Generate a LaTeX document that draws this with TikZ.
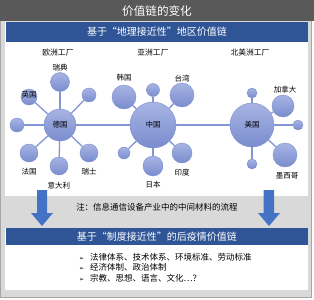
\documentclass[tikz,border=0pt]{standalone}
\usepackage{fontspec}
\setmainfont{Noto Sans CJK SC}
\newfontfamily\dejavu{DejaVu Sans}
\definecolor{titlegray}{HTML}{595959}
\definecolor{bggray}{HTML}{D9D9D9}
\definecolor{framegray}{HTML}{A6A6A6}
\definecolor{hdrblue}{HTML}{2F5597}
\definecolor{arrblue}{HTML}{4472C4}
\definecolor{bubtop}{HTML}{A7B4E3}
\definecolor{bubbot}{HTML}{7A8CCE}
\definecolor{linkc}{HTML}{8396D3}
\begin{document}
\begin{tikzpicture}[x=1pt,y=-1pt,
  bub/.style={circle,inner sep=0pt,minimum size=#1,top color=bubtop,bottom color=bubbot,draw=bubbot,line width=0.4pt,font=\fontsize{7.5}{8}\selectfont},
  link/.style={draw=linkc,line width=1.3pt},
  lab/.style={font=\fontsize{7.5}{8}\selectfont,inner sep=0pt},
  region/.style={font=\fontsize{7.8}{9}\selectfont,inner sep=0pt},
  hdr/.style={font=\fontsize{10}{12}\selectfont,text=white,inner sep=0pt},
  body/.style={font=\fontsize{8.5}{10}\selectfont,inner sep=0pt,anchor=west},
  bigarrow/.style={fill=arrblue,draw=none}
]
\useasboundingbox (0,0) rectangle (314,300);
% background and frame
\fill[white] (0,0) rectangle (314,300);
\fill[bggray,draw=framegray,line width=0.8pt] (0.4,0.4) rectangle (311,297.5);
% title bar
\fill[titlegray] (0,0) rectangle (314,21);
\node[font=\fontsize{11.6}{13}\selectfont,text=white,inner sep=0pt] (title) at (157,11) {价值链的变化};
% upper panel
\fill[white] (5,21.5) rectangle (308,196);
\fill[hdrblue] (6,22) rectangle (308,42);
\node[hdr] (h1) at (157,32) {基于“地理接近性”地区价值链};
% region labels
\node[region] (r1) at (58,53) {欧洲工厂};
\node[region] (r2) at (153,53) {亚洲工厂};
\node[region] (r3) at (250,53) {北美洲工厂};
% Europe
\node[bub=32] (de) at (60,125) {德国};
\node[bub=16] (uk) at (29,97) {};
\node[bub=19] (se) at (60,82) {};
\node[bub=14] (e1) at (89,95) {};
\node[bub=14] (e2) at (17,125) {};
\node[bub=18] (fr) at (29,153) {};
\node[bub=18] (it) at (59,166) {};
\node[bub=18] (ch) at (89,153) {};
\foreach \n in {uk,se,e1,e2,fr,it,ch} \draw[link] (de) -- (\n);
\node[lab] (luk) at (29,95) {英国};
\node[lab] (lse) at (60,68) {瑞典};
\node[lab] (lfr) at (29,172) {法国};
\node[lab] (lit) at (59,186) {意大利};
\node[lab] (lch) at (89,172) {瑞士};
% Asia
\node[bub=46] (cn) at (153,125) {中国};
\node[bub=24] (kr) at (124,97) {};
\node[bub=13] (a1) at (153,90) {};
\node[bub=24] (tw) at (182,95) {};
\node[bub=12] (a2) at (124,153) {};
\node[bub=20] (jp) at (153,166) {};
\node[bub=20] (in) at (182,153) {};
\foreach \n in {kr,a1,tw,a2,jp,in} \draw[link] (cn) -- (\n);
\node[lab] (lkr) at (124,78) {韩国};
\node[lab] (ltw) at (182,79) {台湾};
\node[lab] (ljp) at (153,185) {日本};
\node[lab] (lin) at (182,173) {印度};
% North America
\node[bub=44] (us) at (252,125) {美国};
\node[bub=10] (n1) at (252,93) {};
\node[bub=22] (ca) at (283,106) {};
\node[bub=10] (n2) at (298,125) {};
\node[bub=24] (mx) at (285,155) {};
\node[bub=10] (n3) at (252,164) {};
\foreach \n in {n1,ca,n2,mx,n3} \draw[link] (us) -- (\n);
\node[lab] (lca) at (285,90) {加拿大};
\node[lab] (lmx) at (287,176) {墨西哥};
% inter-region links
\draw[link] (de) -- (cn);
\draw[link] (cn) -- (us);
% note
\node[font=\fontsize{8.5}{10}\selectfont,inner sep=0pt] (note) at (157,207) {注：信息通信设备产业中的中间材料的流程};
% lower panel
\fill[white] (5,228) rectangle (308,290);
\fill[hdrblue] (6,228) rectangle (308,245);
\node[hdr] (h2) at (157,236.5) {基于“制度接近性”的后疫情价值链};
\node[body] (b1) at (79,257) {{\dejavu\fontsize{6}{7}\selectfont ➢}\hspace{6pt}法律体系、技术体系、环境标准、劳动标准};
\node[body] (b2) at (79,267.5) {{\dejavu\fontsize{6}{7}\selectfont ➢}\hspace{6pt}经济体制、政治体制};
\node[body] (b3) at (79,278) {{\dejavu\fontsize{6}{7}\selectfont ➢}\hspace{6pt}宗教、思想、语言、文化…？};
% arrows
\fill[bigarrow] (37,190) -- (47,190) -- (47,213) -- (53,213) -- (42,226) -- (31,213) -- (37,213) -- cycle;
\fill[bigarrow] (263.5,190) -- (274,190) -- (274,213) -- (280,213) -- (269,226) -- (258,213) -- (263.5,213) -- cycle;
\end{tikzpicture}
\end{document}
